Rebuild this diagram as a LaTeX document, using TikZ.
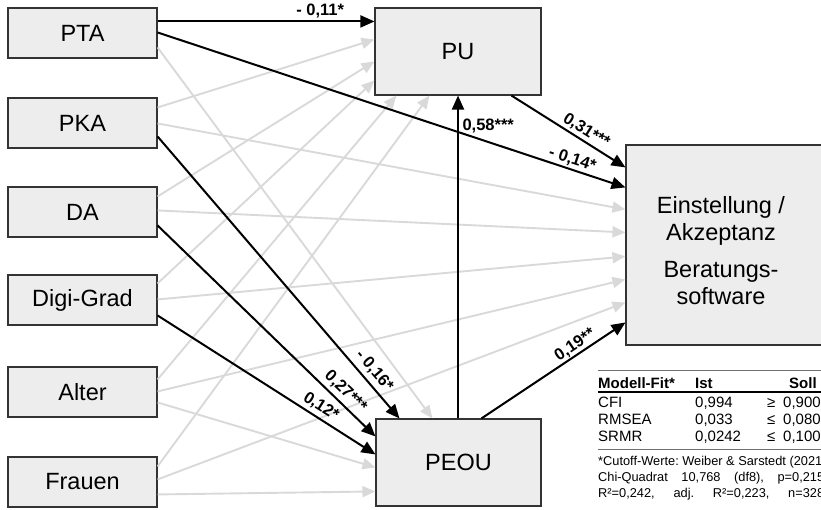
\documentclass[tikz,border=0pt]{standalone}
\usepackage{fontspec}
\setmainfont{Liberation Sans}
\usetikzlibrary{arrows.meta,calc}
\definecolor{boxfill}{HTML}{EDEDED}
\definecolor{boxline}{HTML}{333333}
\definecolor{greyarrow}{HTML}{D9D9D9}
\definecolor{rulegrey}{HTML}{707070}
\frenchspacing
\begin{document}
\begin{tikzpicture}[x=1pt,y=-1pt,
  box/.style={draw=boxline, fill=boxfill, line width=1.1pt, inner sep=0pt,
    font=\fontsize{23.5}{27}\selectfont, align=center},
  leftbox/.style={box, minimum width=149pt, minimum height=50pt},
  sig/.style={line width=2pt, black, -{Triangle[length=14pt,width=12pt]}},
  nsig/.style={line width=1.9pt, greyarrow, -{Triangle[length=13pt,width=11pt]}},
  coef/.style={font=\bfseries\fontsize{16.5}{18}\selectfont, inner sep=0.5pt, text=black},
  tab/.style={anchor=base west, inner sep=0pt, font=\fontsize{15}{17}\selectfont},
  tabh/.style={tab, font=\bfseries\fontsize{15}{17}\selectfont},
  foot/.style={anchor=base west, inner sep=0pt, font=\fontsize{12.8}{15}\selectfont},
]
\useasboundingbox (0,0) rectangle (821,510);
% boxes
\node[leftbox] (PTA) at (82.5,33) {PTA};
\node[leftbox] (PKA) at (82.5,123) {PKA};
\node[leftbox] (DA) at (82.5,212) {DA};
\node[leftbox] (DIGI) at (82.5,300) {Digi-Grad};
\node[leftbox] (ALT) at (82.5,392) {Alter};
\node[leftbox] (FRA) at (82.5,482) {Frauen};
\node[box, minimum width=166pt, minimum height=87pt] (PU) at (458,51.5) {PU};
\node[box, minimum width=165pt, minimum height=87pt] (PEOU) at (458.5,462.5) {PEOU};
\node[box, minimum width=197pt, minimum height=200pt] (EA) at (724.5,245) {};
\node[font=\fontsize{23.5}{27}\selectfont, align=center, inner sep=0pt] (EAtext) at (721,251)
  {Einstellung /\\Akzeptanz\\[10pt]Beratungs-\\software};
% non-significant paths
\draw[nsig] ($(PTA.north east)+(0,40)$) -- ($(PEOU.north west)+(57,0)$);
\draw[nsig] ($(PKA.north east)+(0,10)$) -- ($(PU.north west)+(0,32)$);
\draw[nsig] ($(PKA.north east)+(0,26)$) -- ($(EA.north west)+(0,65)$);
\draw[nsig] ($(DA.north east)+(0,10)$) -- ($(PU.north west)+(0,54)$);
\draw[nsig] ($(DA.north east)+(0,24)$) -- ($(EA.north west)+(0,88)$);
\draw[nsig] ($(DIGI.north east)+(0,9)$) -- ($(PU.north west)+(0,73)$);
\draw[nsig] ($(DIGI.north east)+(0,25)$) -- ($(EA.north west)+(0,112)$);
\draw[nsig] ($(ALT.north east)+(0,13)$) -- ($(PU.south west)+(22,0)$);
\draw[nsig] ($(ALT.north east)+(0,25)$) -- ($(EA.north west)+(0,135)$);
\draw[nsig] ($(ALT.north east)+(0,36)$) -- ($(PEOU.north west)+(0,49)$);
\draw[nsig] ($(FRA.north east)+(0,10)$) -- ($(PU.south west)+(55,0)$);
\draw[nsig] ($(FRA.north east)+(0,23)$) -- ($(EA.north west)+(0,158)$);
\draw[nsig] ($(FRA.north east)+(0,38)$) -- ($(PEOU.north west)+(0,73)$);
% significant paths
\draw[sig] ($(PTA.north east)+(0,14)$) -- node[coef, above=1.5pt, pos=0.75] {- 0,11*} ($(PU.north west)+(0,14)$);
\draw[sig] ($(PTA.north east)+(0,25)$) -- node[coef, sloped, above=1pt, pos=0.88] {- 0,14*} ($(EA.north west)+(0,43)$);
\draw[sig] ($(PU.south west)+(137,0)$) -- node[coef, sloped, above=1.5pt, pos=0.61] {0,31***} ($(EA.north west)+(0,23)$);
\draw[sig] ($(PEOU.north west)+(82.55,0)$) -- node[coef, right=3pt, pos=0.907] {0,58***} ($(PU.south west)+(83.55,0)$);
\draw[sig] ($(PEOU.north west)+(106,0)$) -- node[coef, sloped, above=0.5pt, pos=0.685] {0,19**} ($(EA.north west)+(0,178)$);
\draw[sig] ($(PKA.north east)+(0,39)$) -- node[coef, sloped, above=3.5pt, pos=0.858] {- 0,16*} ($(PEOU.north west)+(24,0)$);
\draw[sig] ($(DA.north east)+(0,39)$) -- node[coef, sloped, above=3pt, pos=0.826] {0,27***} ($(PEOU.north west)+(0,18)$);
\draw[sig] ($(DIGI.north east)+(0,41)$) -- node[coef, sloped, above=2.5pt, pos=0.723] {0,12*} ($(PEOU.north west)+(0,36)$);
% model fit table
\draw[rulegrey, line width=0.8pt] (598,370) -- (823,370);
\node[tabh] (h1) at (598,388) {Modell-Fit*};
\node[tabh] (h2) at (695,388) {Ist};
\node[tabh] (h3) at (789,388) {Soll};
\draw[black, line width=1.2pt] (598,392) -- (823,392);
\node[tab] (r1a) at (598,407) {CFI};
\node[tab] (r1b) at (695,407) {0,994};
\node[tab] (r1c) at (767,407) {≥};
\node[tab] (r1d) at (783,407) {0,900};
\node[tab] (r2a) at (598,424) {RMSEA};
\node[tab] (r2b) at (695,424) {0,033};
\node[tab] (r2c) at (767,424) {≤};
\node[tab] (r2d) at (783,424) {0,080};
\node[tab] (r3a) at (598,441) {SRMR};
\node[tab] (r3b) at (695,441) {0,0242};
\node[tab] (r3c) at (767,441) {≤};
\node[tab] (r3d) at (783,441) {0,100};
\draw[rulegrey, line width=0.8pt] (598,449) -- (823,449);
\node[foot] (f1) at (598,465) {*Cutoff-Werte: Weiber \& Sarstedt (2021)};
\node[foot] (f2) at (598,481) {\makebox[226pt][s]{Chi-Quadrat 10,768 (df8), p=0,215}};
\node[foot] (f3) at (598,497) {\makebox[226pt][s]{R²=0,242, adj. R²=0,223, n=328}};
\end{tikzpicture}
\end{document}
